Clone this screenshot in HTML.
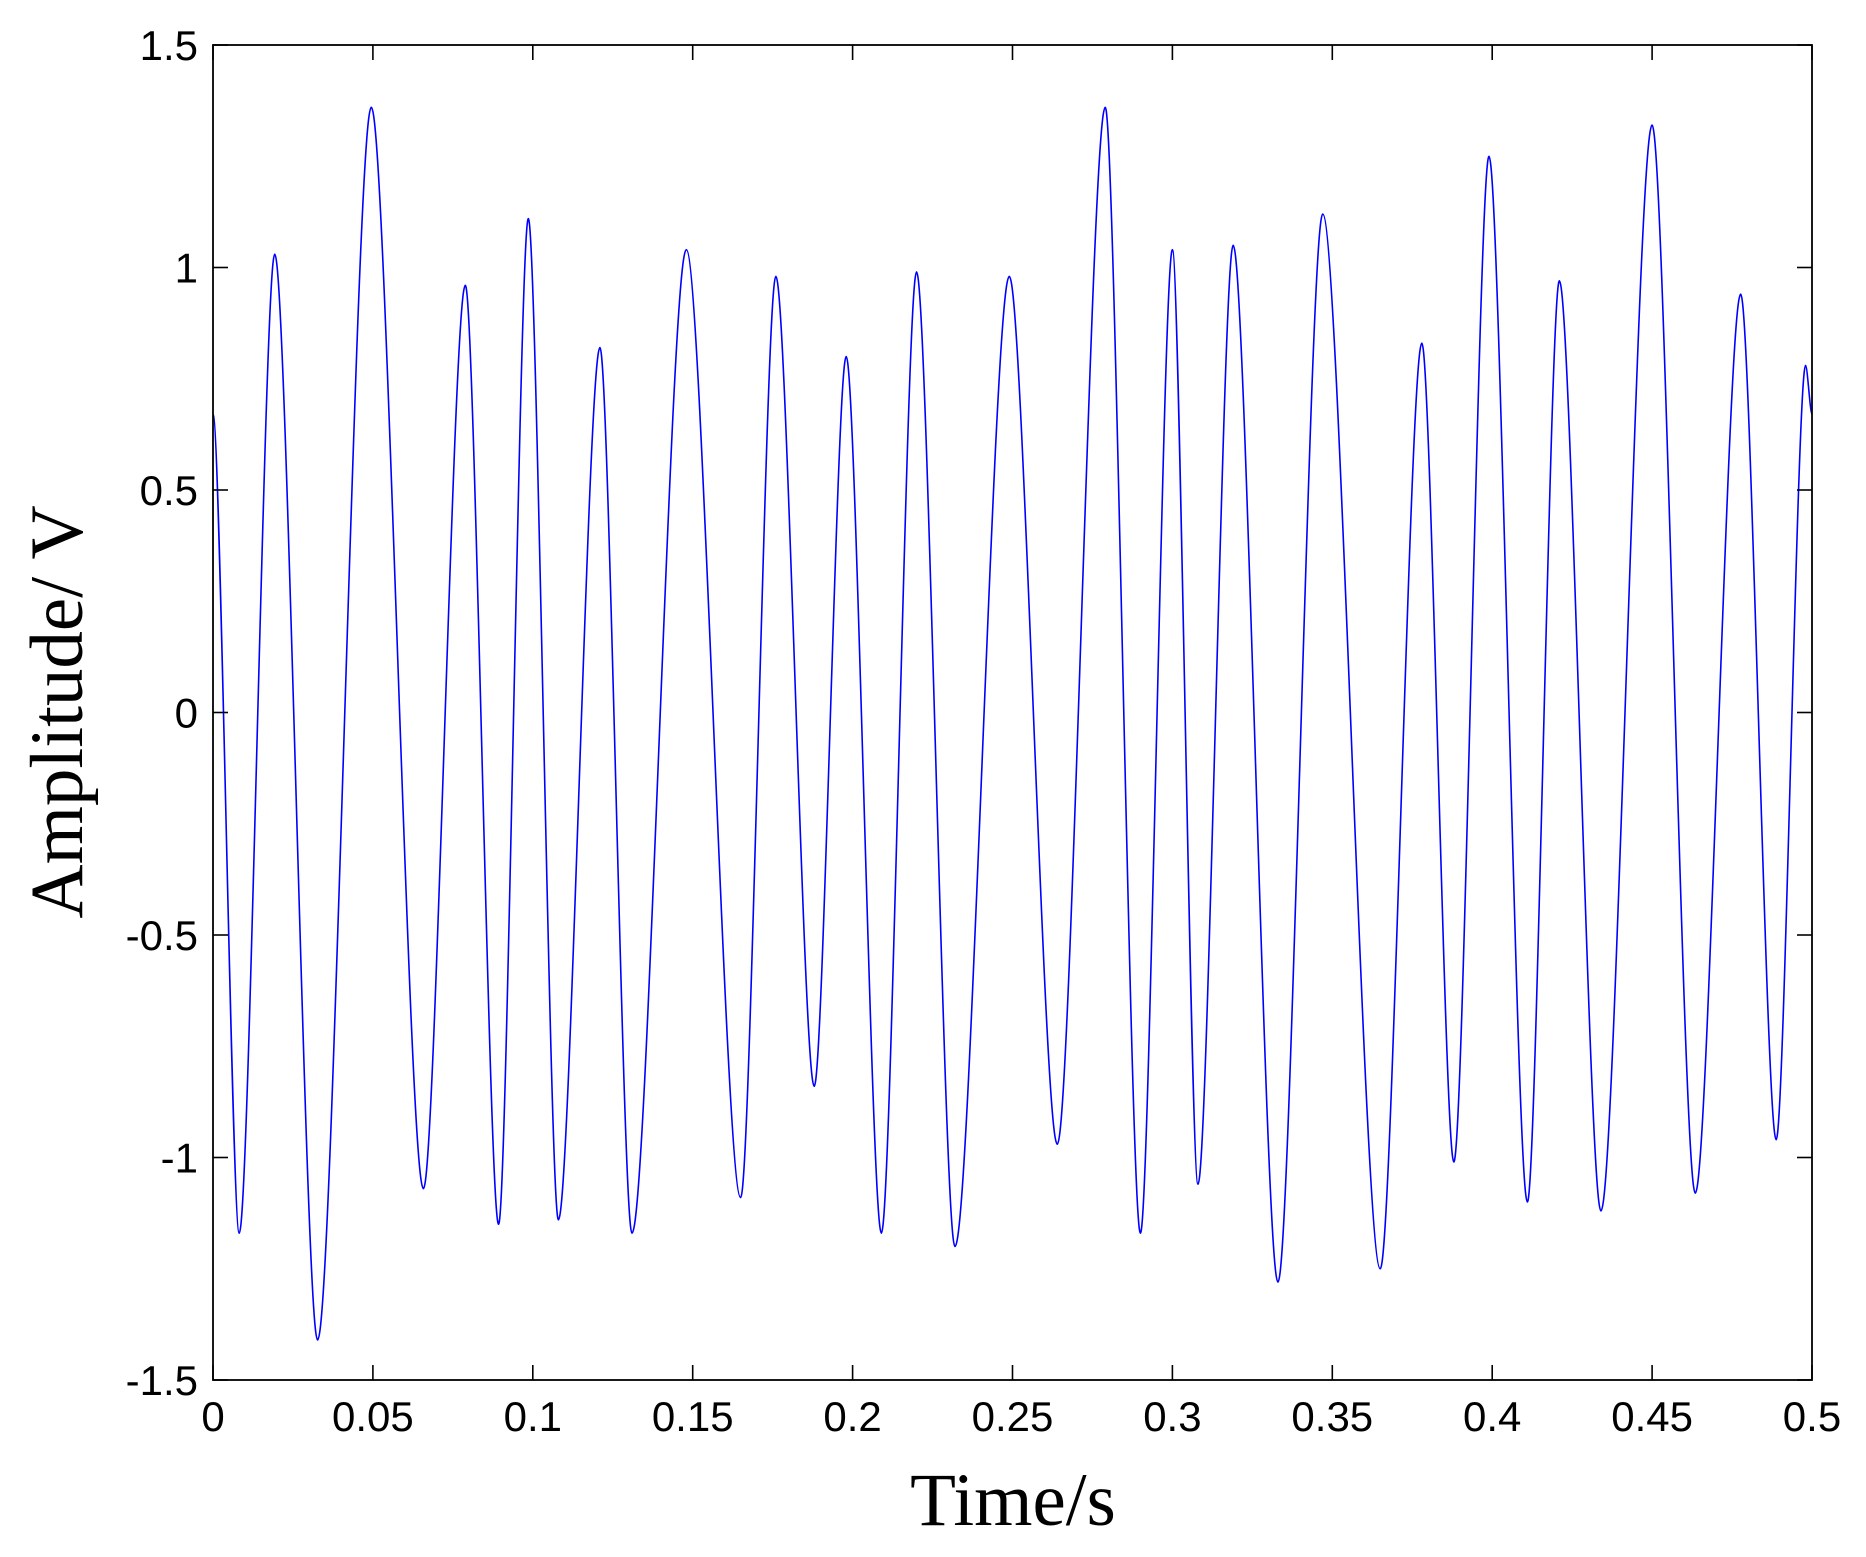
<!DOCTYPE html>
<html><head><meta charset="utf-8"><style>
html,body{margin:0;padding:0;background:#fff;}
svg{display:block;}
</style></head><body>
<svg width="1866" height="1557" viewBox="0 0 1866 1557" xmlns="http://www.w3.org/2000/svg">
<g id="plot"></g>
<g id="axes"></g>
<text x="1013" y="1525" font-family="Liberation Serif, serif" font-size="75" text-anchor="middle">Time/s</text>
<text transform="translate(82,712) rotate(-90)" font-family="Liberation Serif, serif" font-size="75" text-anchor="middle">Amplitude/ V</text>
</svg>
<script>
const times = [0,0.0082,0.0193,0.0327,0.0495,0.0658,0.0789,0.0893,0.0986,0.108,0.121,0.131,0.148,0.165,0.176,0.188,0.198,0.209,0.220,0.232,0.249,0.264,0.279,0.290,0.300,0.308,0.319,0.333,0.347,0.365,0.378,0.388,0.399,0.411,0.421,0.434,0.450,0.4635,0.4777,0.4888,0.498,0.5];
const amps = [0.67,-1.17,1.03,-1.41,1.36,-1.07,0.96,-1.15,1.11,-1.14,0.82,-1.17,1.04,-1.09,0.98,-0.84,0.80,-1.17,0.99,-1.20,0.98,-0.97,1.36,-1.17,1.04,-1.06,1.05,-1.28,1.12,-1.25,0.83,-1.01,1.25,-1.10,0.97,-1.12,1.32,-1.08,0.94,-0.96,0.78,0.67];
const xTicks = [0,0.05,0.1,0.15,0.2,0.25,0.3,0.35,0.4,0.45,0.5];
const xTickLabels = ["0","0.05","0.1","0.15","0.2","0.25","0.3","0.35","0.4","0.45","0.5"];
const yTicks = [-1.5,-1,-0.5,0,0.5,1,1.5];
const yTickLabels = ["-1.5","-1","-0.5","0","0.5","1","1.5"];

const L=213,R=1812,T=45,B=1380;
const xMin=0,xMax=0.5,yMin=-1.5,yMax=1.5;
function sx(v){return L+(v-xMin)/(xMax-xMin)*(R-L);}
function sy(v){return B-(v-yMin)/(yMax-yMin)*(B-T);}
const NS="http://www.w3.org/2000/svg";
const plot=document.getElementById('plot'), axes=document.getElementById('axes');

let d="M"+sx(times[0])+","+sy(amps[0]);
for(let i=1;i<times.length;i++){
  const x0=sx(times[i-1]),y0=sy(amps[i-1]),x1=sx(times[i]),y1=sy(amps[i]);
  const dx=(x1-x0)*0.28;
  d+=" C"+(x0+dx)+","+y0+" "+(x1-dx)+","+y1+" "+x1+","+y1;
}
const line=document.createElementNS(NS,'path');
line.setAttribute('d',d);line.setAttribute('fill','none');line.setAttribute('stroke','#0000ff');line.setAttribute('stroke-width','1.6');


plot.appendChild(line);

const box=document.createElementNS(NS,'rect');
box.setAttribute('x',L);box.setAttribute('y',T);box.setAttribute('width',R-L);box.setAttribute('height',B-T);
box.setAttribute('fill','none');box.setAttribute('stroke','#000');box.setAttribute('stroke-width','1.8');


axes.appendChild(box);

function mkLine(x1,y1,x2,y2,name){
  const l=document.createElementNS(NS,'line');
  l.setAttribute('x1',x1);l.setAttribute('y1',y1);l.setAttribute('x2',x2);l.setAttribute('y2',y2);
  l.setAttribute('stroke','#000');l.setAttribute('stroke-width','1.6');
  
  
  axes.appendChild(l);
}
function mkText(x,y,s,anchor,name){
  const t=document.createElementNS(NS,'text');
  t.setAttribute('x',x);t.setAttribute('y',y);t.setAttribute('text-anchor',anchor);
  t.setAttribute('font-family','Liberation Sans, sans-serif');t.setAttribute('font-size','42');
  t.textContent=s;
  
  
  axes.appendChild(t);
}
xTicks.forEach((v,i)=>{
  const x=sx(v);
  mkLine(x,B,x,B-15,'x-tick');
  mkLine(x,T,x,T+15,'x-tick-top');
  mkText(x,1431,xTickLabels[i],'middle','x-tick-label');
});
yTicks.forEach((v,i)=>{
  const y=sy(v);
  mkLine(L,y,L+15,y,'y-tick');
  mkLine(R,y,R-15,y,'y-tick-right');
  mkText(198,y+15,yTickLabels[i],'end','y-tick-label');
});
</script>
</body></html>
